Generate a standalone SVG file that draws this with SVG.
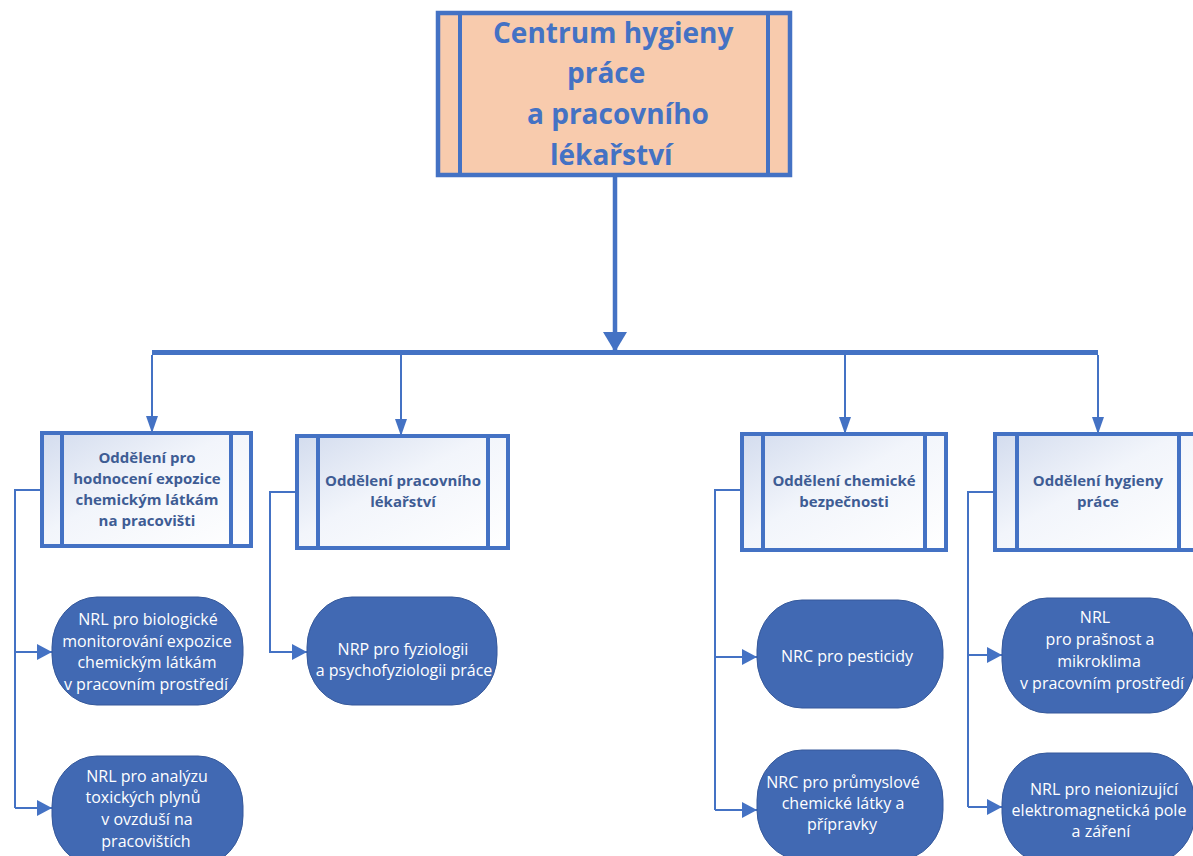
<svg xmlns="http://www.w3.org/2000/svg" width="1193" height="856" viewBox="0 0 1193 856">
<style>
.conn{stroke:#4472C4;fill:none;stroke-width:2}
.bar{stroke:#4472C4;fill:none;stroke-width:5}
.main{stroke:#4472C4;fill:none;stroke-width:4.5}
.dept rect{fill:url(#dg);stroke:#4472C4;stroke-width:4}
.dept line,.top line{stroke:#4472C4;stroke-width:4}
.top rect{fill:#F8CBAD;stroke:#4472C4;stroke-width:4.5}
.tt{font-family:"Open Sans","Noto Sans","DejaVu Sans",sans-serif;font-weight:bold;font-size:28px;fill:#4472C4}
.dt{font-family:"Open Sans","Noto Sans","DejaVu Sans",sans-serif;font-weight:bold;font-size:15px;fill:#3E5C94;text-anchor:middle}
.node rect{fill:#4169B3;stroke:#36599B;stroke-width:1}
.nt{font-family:"Open Sans","Noto Sans","DejaVu Sans",sans-serif;font-size:16px;fill:#FFFFFF;text-anchor:middle}
</style>
<defs>
<linearGradient id="dg" x1="0" y1="0" x2="1" y2="1">
<stop offset="0" stop-color="#D3DCEE"/>
<stop offset="0.45" stop-color="#F2F5FB"/>
<stop offset="1" stop-color="#FFFFFF"/>
</linearGradient>
<marker id="am" markerUnits="userSpaceOnUse" markerWidth="24" markerHeight="24" refX="20" refY="12" orient="auto"><path d="M0,0 L20,12 L0,24 z" fill="#4472C4"/></marker>
<marker id="ad" markerUnits="userSpaceOnUse" markerWidth="17" markerHeight="12" refX="17" refY="6" orient="auto"><path d="M0,0 L17,6 L0,12 z" fill="#4472C4"/></marker>
<marker id="ab" markerUnits="userSpaceOnUse" markerWidth="15" markerHeight="16" refX="15" refY="8" orient="auto"><path d="M0,0 L15,8 L0,16 z" fill="#4472C4"/></marker>
</defs>
<rect width="1193" height="856" fill="#FFFFFF"/>

<g id="connectors">
<path class="main" d="M615,177 V352" marker-end="url(#am)"/>
<path class="bar" d="M152,352.5 H1098"/>
<path class="conn" d="M152,355 V433" marker-end="url(#ad)"/>
<path class="conn" d="M401,355 V436" marker-end="url(#ad)"/>
<path class="conn" d="M845,355 V434" marker-end="url(#ad)"/>
<path class="conn" d="M1098,355 V434" marker-end="url(#ad)"/>
<path class="conn" d="M42,490 H15 V808"/>
<path class="conn" d="M15,652 H52" marker-end="url(#ab)"/>
<path class="conn" d="M15,808 H52" marker-end="url(#ab)"/>
<path class="conn" d="M297,492 H270 V652 H307" marker-end="url(#ab)"/>
<path class="conn" d="M742,490 H715 V810"/>
<path class="conn" d="M715,657 H757" marker-end="url(#ab)"/>
<path class="conn" d="M715,810 H757" marker-end="url(#ab)"/>
<path class="conn" d="M995,492 H968 V807"/>
<path class="conn" d="M968,655 H1002" marker-end="url(#ab)"/>
<path class="conn" d="M968,807 H1002" marker-end="url(#ab)"/>
</g>

<g id="centrum" class="top">
<rect x="438" y="13" width="352" height="162"/>
<line x1="460" y1="13" x2="460" y2="175"/>
<line x1="768" y1="13" x2="768" y2="175"/>
<text class="tt" x="493" y="43">Centrum hygieny</text>
<text class="tt" x="567" y="83">práce</text>
<text class="tt" x="527" y="124">a pracovního</text>
<text class="tt" x="550" y="165">lékařství</text>
</g>

<g id="odd-expozice" class="dept">
<rect x="42" y="433" width="209" height="113"/>
<line x1="62" y1="433" x2="62" y2="546"/>
<line x1="231" y1="433" x2="231" y2="546"/>
<text class="dt" x="147" y="463">Oddělení pro</text>
<text class="dt" x="147" y="484">hodnocení expozice</text>
<text class="dt" x="147" y="505">chemickým látkám</text>
<text class="dt" x="147" y="526">na pracovišti</text>
</g>

<g id="odd-lekarstvi" class="dept">
<rect x="297" y="436" width="211" height="112"/>
<line x1="318" y1="436" x2="318" y2="548"/>
<line x1="488" y1="436" x2="488" y2="548"/>
<text class="dt" x="403" y="486">Oddělení pracovního</text>
<text class="dt" x="403" y="507">lékařství</text>
</g>

<g id="odd-chemicke" class="dept">
<rect x="742" y="434" width="204" height="116"/>
<line x1="763" y1="434" x2="763" y2="550"/>
<line x1="925" y1="434" x2="925" y2="550"/>
<text class="dt" x="844" y="486">Oddělení chemické</text>
<text class="dt" x="844" y="507">bezpečnosti</text>
</g>

<g id="odd-hygieny" class="dept">
<rect x="995" y="434" width="205" height="116"/>
<line x1="1017" y1="434" x2="1017" y2="550"/>
<line x1="1179" y1="434" x2="1179" y2="550"/>
<text class="dt" x="1098" y="486">Oddělení hygieny</text>
<text class="dt" x="1098" y="507">práce</text>
</g>

<g id="nrl-bio" class="node">
<rect x="52" y="597" width="191" height="108" rx="45" ry="50"/>
<text class="nt" x="148" y="625">NRL pro biologické</text>
<text class="nt" x="147" y="647">monitorování expozice</text>
<text class="nt" x="147" y="668">chemickým látkám</text>
<text class="nt" x="146" y="690">v pracovním prostředí</text>
</g>

<g id="nrl-plyny" class="node">
<rect x="52" y="756" width="191" height="110" rx="45" ry="50"/>
<text class="nt" x="147" y="782">NRL pro analýzu</text>
<text class="nt" x="143" y="803">toxických plynů</text>
<text class="nt" x="147" y="825">v ovzduší na</text>
<text class="nt" x="146" y="847">pracovištích</text>
</g>

<g id="nrp-fyziologie" class="node">
<rect x="307" y="597" width="190" height="108" rx="45" ry="50"/>
<text class="nt" x="403" y="655">NRP pro fyziologii</text>
<text class="nt" x="404" y="676">a psychofyziologii práce</text>
</g>

<g id="nrc-pesticidy" class="node">
<rect x="757" y="600" width="186" height="108" rx="45" ry="50"/>
<text class="nt" x="847" y="662">NRC pro pesticidy</text>
</g>

<g id="nrc-prumyslove" class="node">
<rect x="757" y="750" width="186" height="110" rx="45" ry="50"/>
<text class="nt" x="843" y="788">NRC pro průmyslové</text>
<text class="nt" x="843" y="809">chemické látky a</text>
<text class="nt" x="842" y="830">přípravky</text>
</g>

<g id="nrl-prasnost" class="node">
<rect x="1002" y="598" width="193" height="115" rx="45" ry="52"/>
<text class="nt" x="1095" y="623">NRL</text>
<text class="nt" x="1100" y="645">pro prašnost a</text>
<text class="nt" x="1099" y="667">mikroklima</text>
<text class="nt" x="1102" y="689">v pracovním prostředí</text>
</g>

<g id="nrl-elektromagneticka" class="node">
<rect x="1002" y="753" width="193" height="110" rx="45" ry="50"/>
<text class="nt" x="1104" y="795">NRL pro neionizující</text>
<text class="nt" x="1099" y="816">elektromagnetická pole</text>
<text class="nt" x="1101" y="837">a záření</text>
</g>
</svg>
